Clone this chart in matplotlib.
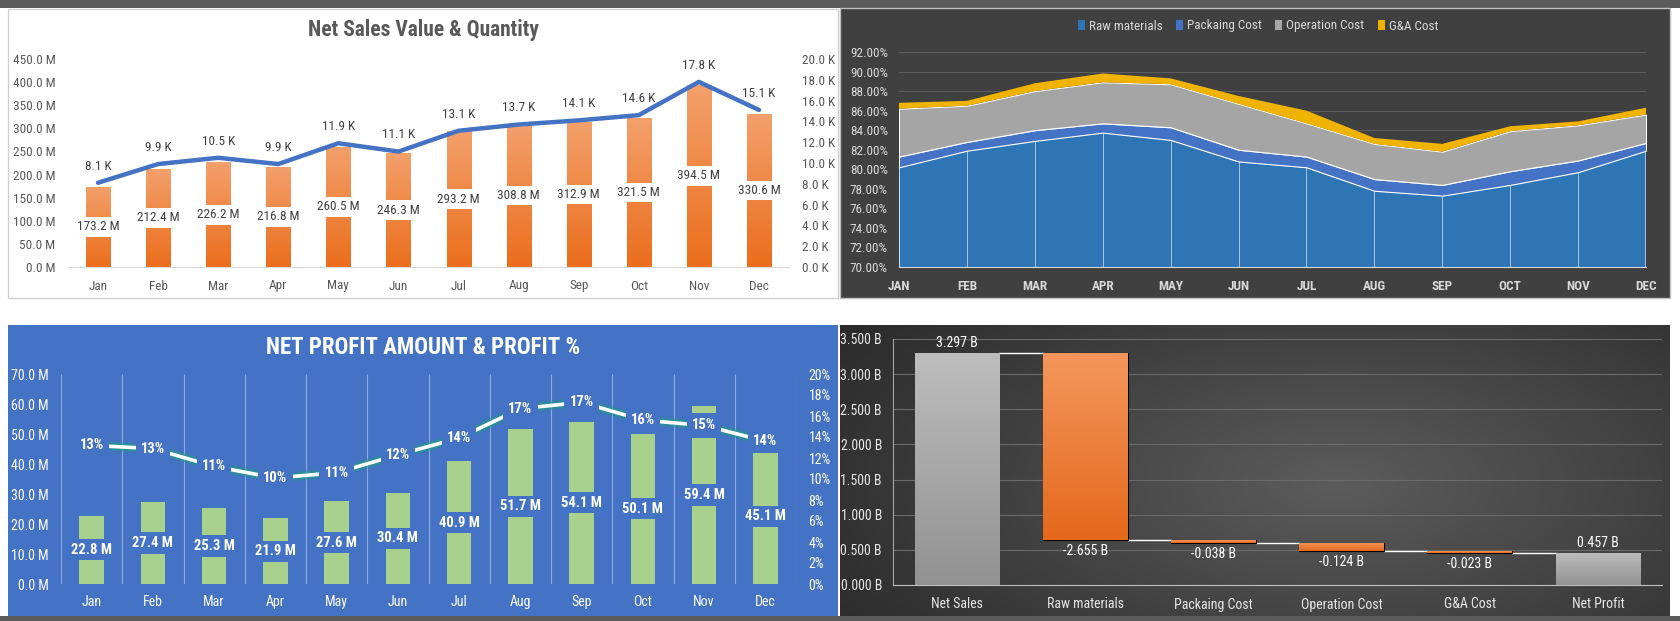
import numpy as np
import matplotlib
matplotlib.use('Agg')
import matplotlib.pyplot as plt
import matplotlib.patheffects as pe
from matplotlib import font_manager
from matplotlib.colors import LinearSegmentedColormap
from matplotlib.patches import Rectangle, Patch

# look for a narrow font (the dashboard uses a condensed Calibri look)
fonts = font_manager.fontManager.ttflist
names = {f.name for f in fonts}
family, stretch = 'Lato', 'normal'
for nm in ['Liberation Sans Narrow', 'Roboto Condensed', 'Open Sans Condensed', 'Noto Sans Condensed', 'Arial Narrow']:
    if nm in names:
        family = nm
        break
else:
    for nm in ['Noto Sans', 'Open Sans', 'Roboto', 'DejaVu Sans']:
        if any(f.name == nm and f.stretch in ('condensed', 'semi-condensed', 'extra-condensed') for f in fonts):
            family, stretch = nm, 'condensed'
            break
plt.rcParams['font.family'] = [family, 'DejaVu Sans']
plt.rcParams['font.stretch'] = stretch

months = ['Jan', 'Feb', 'Mar', 'Apr', 'May', 'Jun', 'Jul', 'Aug', 'Sep', 'Oct', 'Nov', 'Dec']

# net sales value (M) and quantity (K)
sales_m = [173.2, 212.4, 226.2, 216.8, 260.5, 246.3, 293.2, 308.8, 312.9, 321.5, 394.5, 330.6]
qty_k = [8.1, 9.9, 10.5, 9.9, 11.9, 11.1, 13.1, 13.7, 14.1, 14.6, 17.8, 15.1]

# cost as % of sales, stacked
cost_names = ['Raw materials', 'Packaing Cost', 'Operation Cost', 'G&A Cost']
cost_colors = ['#2E75B6', '#4472C4', '#A5A5A5', '#F0B400']
raw_pct = [80.2, 81.9, 82.9, 83.75, 83.0, 80.8, 80.2, 77.8, 77.3, 78.4, 79.7, 81.9]
pack_pct = [1.1, 0.9, 1.1, 0.95, 1.3, 1.2, 1.1, 1.2, 1.1, 1.4, 1.2, 0.8]
oper_pct = [4.9, 3.7, 4.0, 4.2, 4.4, 4.7, 3.4, 3.6, 3.4, 4.1, 3.6, 2.9]
ga_pct = [0.6, 0.5, 0.8, 0.9, 0.6, 0.8, 1.3, 0.6, 0.8, 0.5, 0.4, 0.7]

# net profit (M) and profit %
profit_m = [22.8, 27.4, 25.3, 21.9, 27.6, 30.4, 40.9, 51.7, 54.1, 50.1, 59.4, 45.1]
profit_pct = [13.2, 12.9, 11.2, 10.1, 10.6, 12.3, 13.9, 16.7, 17.3, 15.6, 15.1, 13.6]

# waterfall (B)
wf_cats = ['Net Sales', 'Raw materials', 'Packaing Cost', 'Operation Cost', 'G&A Cost', 'Net Profit']
wf_vals = [3.297, -2.655, -0.038, -0.124, -0.023, 0.457]

W, H = 1680, 621


def box(x0, y0, x1, y1):
    return [x0 / W, 1 - y1 / H, (x1 - x0) / W, (y1 - y0) / H]


def panel(x0, y0, x1, y1, color, edge='none'):
    fig.add_artist(Rectangle((x0 / W, 1 - y1 / H), (x1 - x0) / W, (y1 - y0) / H,
                             transform=fig.transFigure, facecolor=color,
                             edgecolor=edge, lw=1, zorder=-5))


def grad_bar(ax, bar, top, bottom):
    x, y = bar.get_x(), bar.get_y()
    w, h = bar.get_width(), bar.get_height()
    cm = LinearSegmentedColormap.from_list('g', [bottom, top])
    g = np.linspace(0, 1, 64).reshape(-1, 1)
    im = ax.imshow(g, cmap=cm, extent=(x, x + w, y, y + h), origin='lower',
                   aspect='auto', zorder=bar.get_zorder(), interpolation='bilinear')
    im.set_clip_path(bar)
    bar.set_facecolor('none')


fig = plt.figure(figsize=(W / 100, H / 100), dpi=100)
fig.patch.set_facecolor('white')

panel(0, 0, W, 8, '#5b5b5b')
panel(0, 616, W, H, '#5b5b5b')
panel(8, 9, 838, 298, 'white', '#d0d0d0')
panel(840, 8, 1670, 298, '#404040', '#bfbfbf')
panel(8, 325, 838, 616, '#4472C4')

# gradient background of the waterfall panel
bg = fig.add_axes(box(840, 325, 1670, 616))
gx, gy = np.meshgrid(np.linspace(0, 1, 200), np.linspace(0, 1, 100))
r = np.sqrt(((gx - 0.6) / 0.75) ** 2 + ((gy - 0.55) / 1.0) ** 2)
val = np.clip(0.36 - 0.2 * r, 0.17, 1)
bg.imshow(np.dstack([val, val, val]), extent=(0, 1, 0, 1), aspect='auto')
bg.axis('off')

x = np.arange(12)

# ---- Net Sales Value & Quantity
ax1 = fig.add_axes(box(68, 59, 789, 267))
ax1.set_facecolor('none')
bars = ax1.bar(x, sales_m, width=0.4, color='#ED7D31', zorder=2)
for b in bars:
    grad_bar(ax1, b, '#F3A06B', '#EB6E1D')
for i, v in enumerate(sales_m):
    ax1.text(i, v / 2, f'{v:.1f} M', ha='center', va='center', fontsize=9.5, color='#404040', zorder=5,
             bbox=dict(boxstyle='square,pad=0.25', fc='white', ec='none'))
ax1.set_xlim(-0.5, 11.5)
ax1.set_ylim(0, 450)
ax1.set_yticks(np.arange(0, 451, 50))
ax1.set_yticklabels([f'{v:.1f} M' for v in np.arange(0, 451, 50)])
ax1.set_xticks(x, months)
ax1.tick_params(length=0, colors='#595959', labelsize=9.5)
ax1.tick_params(axis='x', pad=9)
ax1.tick_params(axis='y', pad=9)
for s in ['top', 'left', 'right']:
    ax1.spines[s].set_visible(False)
ax1.spines['bottom'].set_color('#d9d9d9')

ax1b = ax1.twinx()
ax1b.plot(x, qty_k, color='#4472C4', lw=3.2, solid_capstyle='round', solid_joinstyle='round')
for i, q in enumerate(qty_k):
    ax1b.annotate(f'{q:.1f} K', (i, q), xytext=(0, 12), textcoords='offset points',
                  ha='center', va='center', fontsize=9.5, color='#404040')
ax1b.set_ylim(0, 20)
ax1b.set_yticks(np.arange(0, 21, 2))
ax1b.set_yticklabels([f'{v:.1f} K' for v in np.arange(0, 21, 2)])
ax1b.tick_params(length=0, colors='#595959', labelsize=9.5, pad=9)
for s in ax1b.spines.values():
    s.set_visible(False)
fig.text(423 / W, 1 - 30 / H, 'Net Sales Value & Quantity', ha='center', va='center',
         fontsize=15.5, weight='bold', color='#595959')

# ---- cost structure area chart
ax2 = fig.add_axes(box(899, 52, 1646, 267))
ax2.set_facecolor('none')
polys = ax2.stackplot(x, raw_pct, pack_pct, oper_pct, ga_pct, labels=cost_names,
                      colors=cost_colors, edgecolor='white', linewidth=0.8, zorder=2)
polys[3].set_edgecolor('none')
ax2.vlines(x, 70, raw_pct, color='#dce6f5', lw=0.7, alpha=0.7, zorder=3)
ax2.set_xlim(0, 11)
ax2.set_ylim(70, 92)
ax2.set_yticks(np.arange(70, 93, 2))
ax2.set_yticklabels([f'{v:.2f}%' for v in np.arange(70, 93, 2)])
ax2.set_xticks(x, [m.upper() for m in months], fontweight='bold')
ax2.tick_params(length=0, colors='#d9d9d9', labelsize=9.5)
ax2.tick_params(axis='x', pad=9)
ax2.tick_params(axis='y', pad=8)
ax2.grid(axis='y', color='#5e5e5e', lw=0.8)
ax2.set_axisbelow(True)
for s in ['top', 'left', 'right']:
    ax2.spines[s].set_visible(False)
ax2.spines['bottom'].set_color('#d9d9d9')
handles = [Patch(facecolor=c, edgecolor='none') for c in cost_colors]
fig.legend(handles=handles, labels=cost_names, loc='center', bbox_to_anchor=(1258 / W, 1 - 26 / H),
           ncol=4, frameon=False, fontsize=9.5, labelcolor='#d9d9d9', handlelength=0.55,
           handleheight=0.75, columnspacing=1.0, handletextpad=0.3)

# ---- Net profit amount & profit %
ax3 = fig.add_axes(box(61, 374, 796, 584))
ax3.set_facecolor('none')
ax3.vlines(np.arange(-0.5, 12, 1), 0, 70, color='#8FAADC', lw=0.8, zorder=1)
ax3.bar(x, profit_m, width=0.4, color='#A9D18E', zorder=2)
for i, v in enumerate(profit_m):
    ax3.text(i, v / 2, f'{v:.1f} M', ha='center', va='center', fontsize=10.5, color='white',
             weight='bold', zorder=5, bbox=dict(boxstyle='square,pad=0.25', fc='#4472C4', ec='none'))
ax3.set_xlim(-0.5, 11.5)
ax3.set_ylim(0, 70)
ax3.set_yticks(np.arange(0, 71, 10))
ax3.set_yticklabels([f'{v:.1f} M' for v in np.arange(0, 71, 10)])
ax3.set_xticks(x, months)
ax3.tick_params(length=0, colors='white', labelsize=10)
ax3.tick_params(axis='x', pad=8)
ax3.tick_params(axis='y', pad=9)
for s in ax3.spines.values():
    s.set_visible(False)

ax3b = ax3.twinx()
ax3b.plot(x, profit_pct, color='white', lw=2.6, solid_capstyle='round',
          path_effects=[pe.Stroke(linewidth=7, foreground='#1f9c86', alpha=0.35),
                        pe.Stroke(linewidth=4.5, foreground='#1f9c86', alpha=0.6),
                        pe.Normal()])
for i, p in enumerate(profit_pct):
    ax3b.text(i, p, f'{p:.0f}%', ha='center', va='center', fontsize=10.5, color='white', weight='bold',
              bbox=dict(boxstyle='square,pad=0.35', fc='#4472C4', ec='none'))
ax3b.set_ylim(0, 20)
ax3b.set_yticks(np.arange(0, 21, 2))
ax3b.set_yticklabels([f'{v}%' for v in range(0, 21, 2)])
ax3b.tick_params(length=0, colors='white', labelsize=10, pad=9)
for s in ax3b.spines.values():
    s.set_visible(False)
fig.text(423 / W, 1 - 347 / H, 'NET PROFIT AMOUNT & PROFIT %', ha='center', va='center',
         fontsize=16.5, weight='bold', color='white')

# ---- waterfall
ax4 = fig.add_axes(box(893, 339, 1662, 585))
ax4.set_facecolor('none')
n = len(wf_vals)
running = np.cumsum(wf_vals[:-1])
bottoms, heights = [], []
for i, v in enumerate(wf_vals):
    if i == 0 or i == n - 1:
        bottoms.append(0)
        heights.append(v)
    else:
        bottoms.append(running[i])
        heights.append(-v)
wbars = ax4.bar(range(n), heights, bottom=bottoms, width=0.66, edgecolor='black', lw=0.8, zorder=3)
for i, b in enumerate(wbars):
    if i == 0 or i == n - 1:
        grad_bar(ax4, b, '#BDBDBD', '#929292')
        b.set_edgecolor('none')
    else:
        grad_bar(ax4, b, '#F4965C', '#E4691B')
for i in range(n - 1):
    lvl = running[i]
    ax4.plot([i + 0.33, i + 0.67], [lvl, lvl], color='white', lw=1, zorder=2)
for i, v in enumerate(wf_vals):
    if v >= 0:
        ax4.annotate(f'{v:.3f} B', (i, bottoms[i] + heights[i]), xytext=(0, 2), textcoords='offset points',
                     ha='center', va='bottom', fontsize=10, color='white')
    else:
        ax4.annotate(f'{v:.3f} B', (i, bottoms[i]), xytext=(0, -3), textcoords='offset points',
                     ha='center', va='top', fontsize=10, color='white')
ax4.set_xlim(-0.5, n - 0.5)
ax4.set_ylim(0, 3.5)
ax4.set_yticks(np.arange(0, 3.51, 0.5))
ax4.set_yticklabels([f'{v:.3f} B' for v in np.arange(0, 3.51, 0.5)])
ax4.set_xticks(range(n), wf_cats)
ax4.tick_params(length=0, colors='#e6e6e6', labelsize=10)
ax4.tick_params(axis='x', pad=9)
ax4.tick_params(axis='y', pad=8)
ax4.grid(axis='y', color='#6b6b6b', lw=0.8)
ax4.set_axisbelow(True)
for s in ['top', 'right']:
    ax4.spines[s].set_visible(False)
ax4.spines['bottom'].set_color('#bfbfbf')
ax4.spines['left'].set_color('#a6a6a6')

fig.savefig('out.png', dpi=100, facecolor=fig.get_facecolor())
